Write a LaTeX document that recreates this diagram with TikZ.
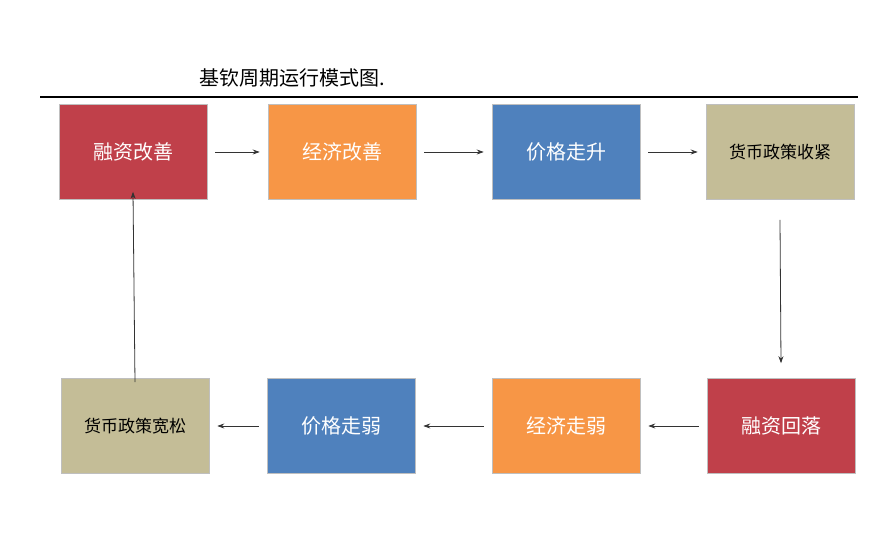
\documentclass[tikz,border=0pt]{standalone}
\usepackage{fontspec}
\newfontfamily\cjk{Noto Sans CJK SC}
\usetikzlibrary{arrows.meta}
\definecolor{cred}{HTML}{C0404A}
\definecolor{corange}{HTML}{F79646}
\definecolor{cblue}{HTML}{4F81BD}
\definecolor{ctan}{HTML}{C4BD97}
\begin{document}
\begin{tikzpicture}[x=1pt,y=-1pt,
  bx/.style={minimum width=148pt,minimum height=95pt,inner sep=0pt,font=\cjk\fontsize{20}{24}\selectfont,text=white,draw=black!25,line width=0.6pt},
  tanbx/.style={bx,text=black,font=\cjk\fontsize{17}{20}\selectfont},
  arr/.style={-{Stealth[length=7pt,width=5pt]},line width=0.8pt,black!80}]
\useasboundingbox (0,0) rectangle (892,537);
\fill[white] (0,0) rectangle (892,537);
\node[font=\cjk\fontsize{20}{24}\selectfont] (title) at (292,78) {基钦周期运行模式图.};
\draw[line width=2pt] (40,97) -- (858,97);
\node[bx,fill=cred] (a1) at (133,152) {融资改善};
\node[bx,fill=corange] (a2) at (342,152) {经济改善};
\node[bx,fill=cblue] (a3) at (566,152) {价格走升};
\node[tanbx,fill=ctan] (a4) at (780,152) {货币政策收紧};
\node[tanbx,fill=ctan] (b1) at (135,426) {货币政策宽松};
\node[bx,fill=cblue] (b2) at (341,426) {价格走弱};
\node[bx,fill=corange] (b3) at (566,426) {经济走弱};
\node[bx,fill=cred] (b4) at (781,426) {融资回落};
\draw[arr] (a1.east) ++(8,0) coordinate (s1) -- ([xshift=-8pt]a2.west);
\draw[arr] ([xshift=8pt]a2.east) -- ([xshift=-8pt]a3.west);
\draw[arr] ([xshift=8pt]a3.east) -- ([xshift=-8pt]a4.west);
\draw[arr] ([yshift=-20pt]a4.south) -- ([yshift=15pt]b4.north);
\draw[arr] ([xshift=-8pt]b4.west) -- ([xshift=8pt]b3.east);
\draw[arr] ([xshift=-8pt]b3.west) -- ([xshift=8pt]b2.east);
\draw[arr] ([xshift=-8pt]b2.west) -- ([xshift=8pt]b1.east);
\draw[arr] ([yshift=-4pt]b1.north) -- ([yshift=8pt]a1.south);
\end{tikzpicture}
\end{document}
